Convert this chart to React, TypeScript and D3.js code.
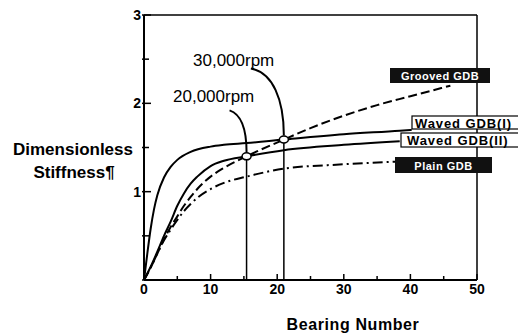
import React from 'react';
import * as d3 from 'd3';

// Bearing number (x) and dimensionless stiffness (y) per bearing type
const wavedIX = [0, 0.5, 1, 1.5, 2, 3, 4, 5, 7, 10, 12, 15.4, 21, 30, 38.4, 40.2];
const wavedIY = [0, 0.3, 0.58, 0.8, 0.96, 1.16, 1.28, 1.36, 1.45, 1.51, 1.53, 1.55, 1.59, 1.65, 1.69, 1.7];

const wavedIIX = [0, 1, 2, 3, 4, 5, 6, 7, 8, 10, 12, 15.4, 21, 30, 38.4];
const wavedIIY = [0, 0.15, 0.32, 0.5, 0.66, 0.84, 0.98, 1.09, 1.17, 1.29, 1.35, 1.4, 1.47, 1.53, 1.57];

const groovedX = [0, 1, 2, 3, 4, 5, 6, 7, 8, 10, 12, 15.4, 21, 25, 30, 35, 40, 46];
const groovedY = [0, 0.14, 0.3, 0.46, 0.6, 0.72, 0.84, 0.94, 1.03, 1.17, 1.27, 1.4, 1.59, 1.72, 1.86, 1.98, 2.08, 2.2];

const plainX = [0, 1, 2, 3, 4, 5, 6, 7, 8, 10, 12, 15.4, 21, 30, 37.7];
const plainY = [0, 0.14, 0.3, 0.45, 0.57, 0.68, 0.78, 0.86, 0.93, 1.03, 1.1, 1.17, 1.26, 1.31, 1.34];

// operating points (bearing number, stiffness)
const rpmLabels = ['20,000rpm', '30,000rpm'];
const rpmX = [15.4, 21];
const rpmY = [1.4, 1.59];

const xTicks = [0, 10, 20, 30, 40, 50];
const yTicks = [0, 1, 2, 3];

const W = 518;
const H = 336;
const font = '"Liberation Sans", Arial, sans-serif';

const zip = (xs: number[], ys: number[]) => xs.map((x, i) => [x, ys[i]] as [number, number]);

export default function App() {
  const x = d3.scaleLinear().domain([0, 50]).range([144, 477]);
  const y = d3.scaleLinear().domain([0, 3]).range([280, 15]);

  const line = d3
    .line<[number, number]>()
    .x(d => x(d[0]))
    .y(d => y(d[1]))
    .curve(d3.curveMonotoneX);

  const series = [
    { data: zip(wavedIX, wavedIY), dash: null },
    { data: zip(wavedIIX, wavedIIY), dash: null },
    { data: zip(groovedX, groovedY), dash: '9,4' },
    { data: zip(plainX, plainY), dash: '10,4,2,4' },
  ];

  const xMinor = d3.range(0, 50.1, 5);
  const yMinor = d3.range(0, 3.01, 0.5);

  // leader lines from rpm text to operating points
  const p20 = [x(rpmX[0]), y(rpmY[0])];
  const p30 = [x(rpmX[1]), y(rpmY[1])];
  const lead20 = `M${p20[0] - 17},${p20[1] - 46} C${p20[0] - 5},${p20[1] - 42} ${p20[0]},${p20[1] - 28} ${p20[0]},${p20[1] - 4}`;
  const lead30 = `M${p30[0] - 33},${p30[1] - 71} C${p30[0] - 11},${p30[1] - 67} ${p30[0]},${p30[1] - 40} ${p30[0]},${p30[1] - 4}`;

  return (
    <svg width={W} height={H} style={{ position: 'absolute', left: 0, top: 0, background: '#fff' }} fontFamily={font}>
      {/* frame */}
      <line x1={x(0)} x2={x(50)} y1={y(3)} y2={y(3)} stroke="#000" strokeWidth={1.5} />
      <line x1={x(50)} x2={x(50)} y1={y(3)} y2={y(0)} stroke="#000" strokeWidth={1.5} />
      <line x1={x(0)} x2={x(0)} y1={y(3)} y2={y(0)} stroke="#000" strokeWidth={2} />
      <line x1={x(0)} x2={x(50)} y1={y(0)} y2={y(0)} stroke="#000" strokeWidth={2} />

      {/* ticks, inward */}
      {xMinor.map(t => (
        <line key={'xt' + t} x1={x(t)} x2={x(t)} y1={y(0)} y2={y(0) - (t % 10 === 0 ? 6 : 4)} stroke="#000" strokeWidth={1.5} />
      ))}
      {yMinor.map(t => (
        <line key={'yt' + t} x1={x(0) - 2} x2={x(0) + (t % 1 === 0 ? 7 : 5)} y1={y(t)} y2={y(t)} stroke="#000" strokeWidth={1.5} />
      ))}
      {xTicks.map(t => (
        <text key={'xl' + t} x={x(t)} y={y(0) + 14} textAnchor="middle" fontSize={14} fontWeight="bold">{t}</text>
      ))}
      {yTicks.filter(t => t > 0).map(t => (
        <text key={'yl' + t} x={x(0) - 3} y={y(t) + 5} textAnchor="end" fontSize={14} fontWeight="bold">{t}</text>
      ))}

      {/* curves */}
      {series.map((s, i) => (
        <path key={i} d={line(s.data) || ''} fill="none" stroke="#000" strokeWidth={2} strokeDasharray={s.dash || undefined} />
      ))}

      {/* operating points */}
      {rpmX.map((v, i) => (
        <g key={'op' + i}>
          <line x1={x(v)} x2={x(v)} y1={y(0)} y2={y(rpmY[i])} stroke="#000" strokeWidth={1.5} />
          <ellipse cx={x(v)} cy={y(rpmY[i])} rx={4.5} ry={3.5} fill="#fff" stroke="#000" strokeWidth={1.5} />
        </g>
      ))}
      <path d={lead20} fill="none" stroke="#000" strokeWidth={2} />
      <path d={lead30} fill="none" stroke="#000" strokeWidth={2} />
      <text x={173} y={102} fontSize={17}>{rpmLabels[0]}</text>
      <text x={193} y={66} fontSize={17}>{rpmLabels[1]}</text>

      {/* series labels */}
      <rect x={390} y={68} width={100} height={15} fill="#111" />
      <text x={440} y={79.5} textAnchor="middle" fontSize={11} fontWeight="bold" fill="#fff" letterSpacing={0.5}>Grooved GDB</text>

      <rect x={412} y={116} width={110} height={13} fill="#fff" stroke="#000" strokeWidth={1.2} />
      <text x={415} y={127.5} fontSize={13} fontWeight="bold" letterSpacing={0.9}>Waved GDB(I)</text>

      <rect x={401} y={133} width={120} height={14} fill="#fff" stroke="#000" strokeWidth={1.2} />
      <text x={407} y={145} fontSize={13} fontWeight="bold" letterSpacing={0.9}>Waved GDB(II)</text>

      <rect x={395} y={157} width={97} height={16} fill="#111" />
      <text x={443.5} y={169.5} textAnchor="middle" fontSize={11} fontWeight="bold" fill="#fff" letterSpacing={0.5}>Plain GDB</text>

      {/* axis titles */}
      <text x={73} y={155} textAnchor="middle" fontSize={17} fontWeight="bold">Dimensionless</text>
      <text x={74} y={178} textAnchor="middle" fontSize={17} fontWeight="bold">Stiffness¶</text>
      <text x={353} y={330} textAnchor="middle" fontSize={16} fontWeight="bold" letterSpacing={0.6}>Bearing Number</text>
    </svg>
  );
}
